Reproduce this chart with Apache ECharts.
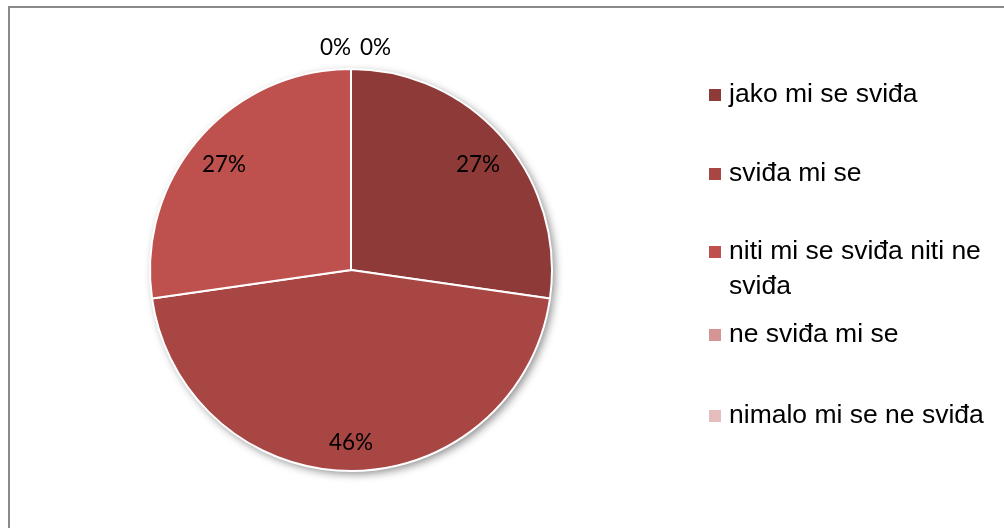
<!DOCTYPE html>
<html>
<head>
<meta charset="utf-8">
<script src="https://cdn.jsdelivr.net/npm/echarts@6/dist/echarts.min.js"></script>
<style>
  html, body { margin: 0; padding: 0; background: #fff; }
  #chart { width: 1004px; height: 528px; }
</style>
</head>
<body>
<div id="chart"></div>
<script>
// ---- data ----
const categories = ['jako mi se sviđa', 'sviđa mi se', 'niti mi se sviđa niti ne sviđa', 'ne sviđa mi se', 'nimalo mi se ne sviđa'];
const values = [27.3, 45.5, 27.3, 0, 0];
const colors = ['#8E3A38', '#A84644', '#BE504D', '#D49594', '#E6BDBD'];

const chart = echarts.init(document.getElementById('chart'), null, { renderer: 'canvas' });

const center = [351, 270];
const R = 201;

const baseData = categories.map((c, i) => ({ name: c, value: values[i] }));

const innerLabelData = categories.map((c, i) => ({
  name: c, value: values[i],
  label: { show: values[i] > 0 }
}));

let zeroCount = 0;
const zeroLabelData = categories.map((c, i) => {
  const isZero = values[i] === 0;
  let pad = [0, 0, 0, 0];
  if (isZero) {
    pad = zeroCount === 0 ? [0, 31, 0, 0] : [0, 0, 0, 49];
    zeroCount++;
  }
  return { name: c, value: values[i], label: { show: isZero, padding: pad } };
});

const labelFmt = p => Math.round(p.value) + '%';
// blank first line (short line height) nudges the label a few pixels down
const labelFmtLow = p => '\n' + Math.round(p.value) + '%';
const labelFont = { fontFamily: 'Lato', fontSize: 22.5, color: '#000' };

const legendFontSize = 26.5;
const legendFontFamily = 'Liberation Sans';
const measureCtx = document.createElement('canvas').getContext('2d');
measureCtx.font = legendFontSize + 'px "' + legendFontFamily + '"';
function wrapText(text, maxW) {
  const words = text.split(' ');
  const lines = [];
  let cur = '';
  words.forEach(w => {
    const test = cur ? cur + ' ' + w : w;
    if (cur && measureCtx.measureText(test).width > maxW) { lines.push(cur); cur = w; }
    else cur = test;
  });
  if (cur) lines.push(cur);
  return lines.join('\n');
}

const legendText = { fontFamily: legendFontFamily, fontSize: legendFontSize, color: '#000', lineHeight: 35, padding: [0, 0, 0, 3] };
const legendCommon = {
  orient: 'vertical', left: 709, padding: 0,
  itemWidth: 12, itemHeight: 12, icon: 'rect',
  itemStyle: { borderWidth: 0, shadowBlur: 0, shadowColor: 'rgba(0,0,0,0)' },
  selectedMode: false,
  textStyle: legendText
};

const option = {
  animation: false,
  color: colors,
  graphic: [{
    type: 'polyline',
    shape: { points: [[9, 528], [9, 7], [1004, 7]] },
    style: { stroke: '#898989', lineWidth: 2, fill: null },
    silent: true
  }],
  legend: [
    Object.assign({}, legendCommon, {
      top: 77.5, itemGap: 44,
      data: categories.slice(0, 2)
    }),
    Object.assign({}, legendCommon, {
      top: 199.5,
      data: categories.slice(2, 3),
      formatter: name => '\n' + wrapText(name, 265)
    }),
    Object.assign({}, legendCommon, {
      top: 317.5, itemGap: 46,
      data: categories.slice(3, 5)
    })
  ],
  series: [
    {
      type: 'pie', z: 3,
      center: center, radius: [0, R],
      startAngle: 90, clockwise: true,
      data: baseData,
      label: { show: false }, labelLine: { show: false },
      itemStyle: { borderColor: '#fff', borderWidth: 2 },
      emphasis: { disabled: true }
    },
    {
      type: 'pie', z: 1, silent: true,
      center: center, radius: [0, R],
      startAngle: 90, clockwise: true,
      data: baseData,
      label: { show: false }, labelLine: { show: false },
      itemStyle: { shadowBlur: 8, shadowOffsetX: 3, shadowOffsetY: 3, shadowColor: 'rgba(0,0,0,0.45)' },
      emphasis: { disabled: true }
    },
    {
      type: 'pie', z: 4, silent: true,
      center: center, radius: [144, 186],
      startAngle: 90, clockwise: true,
      data: innerLabelData,
      itemStyle: { color: 'rgba(0,0,0,0)', borderWidth: 0 },
      label: Object.assign({ position: 'inside', formatter: labelFmtLow, lineHeight: 10 }, labelFont),
      labelLine: { show: false },
      emphasis: { disabled: true }
    },
    {
      type: 'pie', z: 4, silent: true,
      center: center, radius: [217, 221],
      startAngle: 90, clockwise: true,
      data: zeroLabelData,
      itemStyle: { color: 'rgba(0,0,0,0)', borderWidth: 0 },
      label: Object.assign({ position: 'inside', formatter: labelFmt }, labelFont),
      labelLine: { show: false },
      emphasis: { disabled: true }
    }
  ]
};

chart.setOption(option);
</script>
</body>
</html>
